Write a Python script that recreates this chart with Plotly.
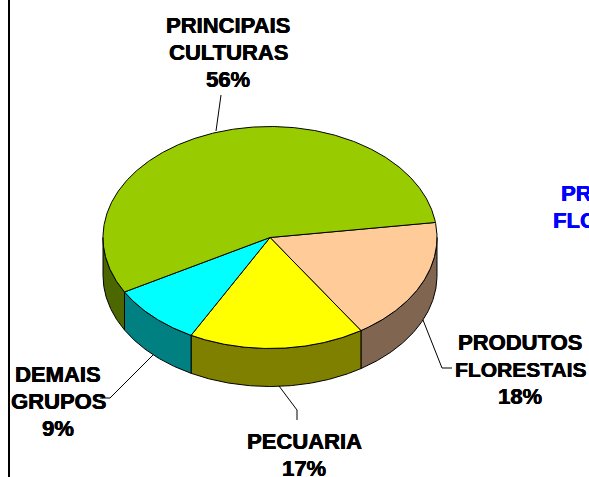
import numpy as np
import plotly.graph_objects as go

categories = [["PRODUTOS", "FLORESTAIS"], ["PECUARIA"], ["DEMAIS", "GRUPOS"], ["PRINCIPAIS", "CULTURAS"]]
values = [18, 17, 9, 56]
colors = ["#FFCC99", "#FFFF00", "#00FFFF", "#99CC00"]
side_colors = ["#806650", "#808000", "#008080", "#4C6600"]
label_pos = [(520, 342), (304, 441), (58, 374), (228, 25)]
leaders = [
    ([423, 442, 452], [320, 368, 368]),
    ([279, 297, 297], [386, 410, 420]),
    ([153, 110, 100], [355, 398, 398]),
    ([216, 221], [131, 95]),
]

CX, CY, RX, RY, DEPTH = 270, 237.5, 167, 111, 38
START = -7.8
W, H = 589, 477
FONT = "Liberation Sans, Arial, sans-serif"
SHADOW_K = "0.4px 0 0 #000000, -0.2px 0 0 #000000"
SHADOW_B = "0.4px 0 0 #0000FF, -0.2px 0 0 #0000FF"
LINE_STEP = 27.3

def arc(a0, a1):
    t = np.radians(np.linspace(a0, a1, max(int(abs(a1 - a0)) * 2, 2) + 1))
    return CX + RX * np.cos(t), CY + RY * np.sin(t)

shares = np.array(values, dtype=float) / sum(values) * 360
edges = START + np.concatenate([[0], np.cumsum(shares)])

fig = go.Figure()
LINE = dict(color="black", width=1)

# visible rim (front half of the disc)
for i in range(len(values)):
    for lo, hi in [(0, 180), (360, 540)]:
        a0, a1 = max(edges[i], lo), min(edges[i + 1], hi)
        if a1 > a0:
            x, y = arc(a0, a1)
            fig.add_trace(go.Scatter(
                x=np.concatenate([x, x[::-1], x[:1]]),
                y=np.concatenate([y, y[::-1] + DEPTH, y[:1]]),
                mode="lines", fill="toself", fillcolor=side_colors[i], line=LINE,
                hoverinfo="skip", showlegend=False))

# top face
for i in range(len(values)):
    x, y = arc(edges[i], edges[i + 1])
    fig.add_trace(go.Scatter(
        x=np.concatenate([[CX], x, [CX]]),
        y=np.concatenate([[CY], y, [CY]]),
        mode="lines", fill="toself", fillcolor=colors[i], line=LINE,
        hoverinfo="skip", showlegend=False))

# leader lines
for lx, ly in leaders:
    fig.add_trace(go.Scatter(x=lx, y=ly, mode="lines", line=LINE,
                             hoverinfo="skip", showlegend=False))

annotations = []
for words, v, (px, py) in zip(categories, values, label_pos):
    for k, line in enumerate(words + [f"{v}%"]):
        size = 21 if line == "FLORESTAIS" else 22
        annotations.append(dict(
            x=px, y=py + k * LINE_STEP, text=f"<b>{line}</b>", showarrow=False,
            xanchor="center", yanchor="middle", align="center", borderpad=0,
            font=dict(family=FONT, size=size, color="black", shadow=SHADOW_K)))
for txt, px, py in [("PR", 560, 193), ("FLO", 552, 220)]:
    annotations.append(dict(x=px, y=py, text=f"<b>{txt}</b>", showarrow=False,
                            xanchor="left", yanchor="middle", borderpad=0,
                            font=dict(family=FONT, size=22, color="#0000FF", shadow=SHADOW_B)))

fig.update_layout(
    width=W, height=H, margin=dict(l=0, r=0, t=0, b=0),
    paper_bgcolor="white", plot_bgcolor="white", showlegend=False,
    xaxis=dict(range=[0, W], visible=False, fixedrange=True),
    yaxis=dict(range=[H, 0], visible=False, fixedrange=True),
    annotations=annotations,
    shapes=[dict(type="line", x0=9, x1=9, y0=0, y1=H, xref="x", yref="y",
                 line=dict(color="black", width=2))],
)
fig.write_html("out.html", config={"displayModeBar": False},
               post_script="document.body.style.margin='0';")
